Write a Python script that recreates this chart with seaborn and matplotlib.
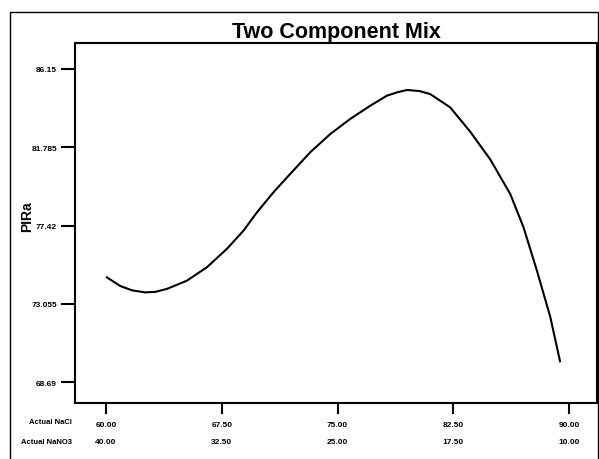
import matplotlib
matplotlib.use("Agg")
import matplotlib.pyplot as plt
import seaborn as sns
import pandas as pd
from matplotlib.patches import Rectangle
from matplotlib.transforms import blended_transform_factory

# Data
nacl = [60.0, 60.91, 61.7, 62.53, 63.2, 63.93, 65.23, 66.53, 67.82, 68.90, 69.77,
        70.84, 71.92, 73.22, 74.52, 75.81, 77.11, 78.19, 78.9, 79.5, 80.3, 81.0,
        82.29, 83.59, 84.89, 86.18, 87.04, 87.91, 88.78, 89.42]
pira = [74.56, 74.05, 73.80, 73.69, 73.72, 73.88, 74.34, 75.09, 76.11, 77.13, 78.15,
        79.27, 80.29, 81.50, 82.52, 83.36, 84.10, 84.66, 84.86, 84.98, 84.92, 84.75,
        84.01, 82.65, 81.10, 79.18, 77.32, 74.90, 72.30, 69.79]
x_ticks = [60.0, 67.5, 75.0, 82.5, 90.0]
x_labels_nacl = ["60.00", "67.50", "75.00", "82.50", "90.00"]
x_labels_nano3 = ["40.00", "32.50", "25.00", "17.50", "10.00"]
y_ticks = [68.69, 73.055, 77.42, 81.785, 86.15]
y_labels = ["68.69", "73.055", "77.42", "81.785", "86.15"]

sns.set_theme(style="white")
plt.rcParams['font.family'] = ['Liberation Sans', 'DejaVu Sans']
plt.rcParams['text.color'] = 'black'
plt.rcParams['axes.labelcolor'] = 'black'
plt.rcParams['xtick.color'] = 'black'
plt.rcParams['ytick.color'] = 'black'

df = pd.DataFrame({"NaCl": nacl, "PIRa": pira})

fig = plt.figure(figsize=(5.99, 4.60), dpi=100)
W, H = 599, 460
ax = fig.add_axes([75 / W, 1 - 404 / H, (597 - 75) / W, (404 - 44) / H])

sns.lineplot(data=df, x="NaCl", y="PIRa", ax=ax, color="black", linewidth=1.5)
for ln in ax.lines:
    ln.set_solid_joinstyle("round")
    ln.set_solid_capstyle("butt")

ax.set_xlim(57.99, 91.8)
ax.set_ylim(67.52, 87.60)

for s in ax.spines.values():
    s.set_color("black")
    s.set_linewidth(1.5)

ax.set_xticks(x_ticks)
ax.set_xticklabels(x_labels_nacl, fontsize=6, fontweight="bold", color="black")
ax.set_yticks(y_ticks)
ax.set_yticklabels(y_labels, fontsize=6, fontweight="bold", color="black")
ax.tick_params(axis="y", which="major", direction="out", length=10, width=1.5,
               color="black", pad=3, left=True)
ax.tick_params(axis="x", which="major", direction="out", length=8, width=1.5,
               color="black", pad=5, bottom=True)

ax.set_xlabel("")
ax.set_ylabel("PIRa", fontsize=10, fontweight="bold", color="black")
ax.yaxis.set_label_coords(-0.0785, 0.52)

ax.set_title("Two Component Mix", fontsize=15.5, fontweight="bold", pad=4,
             color="black")

# second row of x labels
trans = blended_transform_factory(ax.transData, fig.transFigure)
for xv, lab in zip(x_ticks, x_labels_nano3):
    ax.text(xv, 1 - 443 / H, lab, transform=trans, ha="center", va="center",
            fontsize=6, fontweight="bold", color="black", clip_on=False)

fig.text(72 / W, 1 - 423 / H, "Actual NaCl", ha="right", va="center",
         fontsize=5.5, fontweight="bold", color="black")
fig.text(72 / W, 1 - 443 / H, "Actual NaNO3", ha="right", va="center",
         fontsize=5.5, fontweight="bold", color="black")

# outer frame
fig.patches.append(Rectangle((10 / W, -0.02), (598 - 10) / W, (1 - 13 / H) + 0.02,
                             transform=fig.transFigure, fill=False,
                             edgecolor="black", linewidth=1.0))

fig.savefig("out.png", dpi=100)
